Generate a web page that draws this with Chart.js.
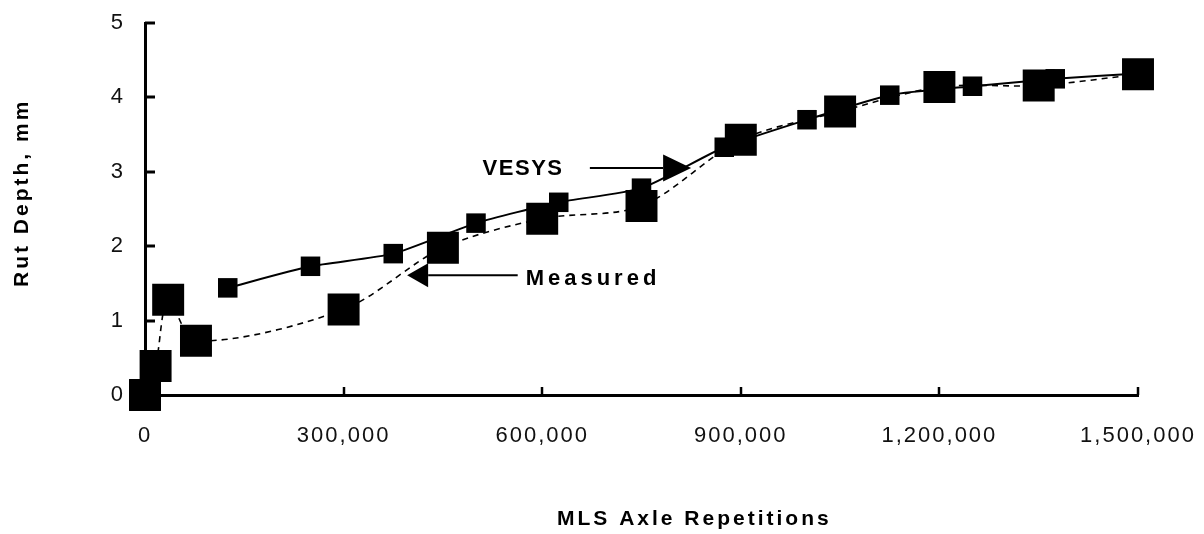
<!DOCTYPE html>
<html>
<head>
<meta charset="utf-8">
<title>Rut Depth vs MLS Axle Repetitions</title>
<script src="https://cdn.jsdelivr.net/npm/chart.js@4.4.1/dist/chart.umd.min.js"></script>
<style>
  html, body { margin: 0; padding: 0; background: #fff; }
  canvas { display: block; }
</style>
</head>
<body>
<canvas id="rutChart" width="1204" height="534"></canvas>
<script>
// Measured rut depth (mm) against MLS axle repetitions
const measuredReps = [0, 16000, 35000, 77000, 300000, 450000, 600000, 750000, 900000, 1050000, 1200000, 1350000, 1500000];
const measuredRut  = [0, 0.39, 1.28, 0.73, 1.15, 1.98, 2.37, 2.54, 3.43, 3.81, 4.14, 4.16, 4.31];

// VESYS predicted rut depth (mm)
const vesysReps = [125000, 250000, 375000, 500000, 625000, 750000, 875000, 1000000, 1125000, 1250000, 1375000, 1500000];
const vesysRut  = [1.44, 1.73, 1.90, 2.31, 2.59, 2.78, 3.33, 3.70, 4.03, 4.15, 4.25, 4.32];

// Axis tick labels
const xTickLabels = ['0', '300,000', '600,000', '900,000', '1,200,000', '1,500,000'];
const yTickLabels = ['0', '1', '2', '3', '4', '5'];

// Axis titles and series callouts
const xTitle = 'MLS Axle Repetitions';
const yTitle = 'Rut Depth, mm';
const vesysCallout = { text: 'VESYS', labelX: 510000, labelY: 2.96, tailX: 672000, tipX: 825000, arrowY: 3.05 };
const measuredCallout = { text: 'Measured', labelX: 575000, labelY: 1.48, tailX: 563000, tipX: 396000, arrowY: 1.61 };

const FONT = "'Liberation Sans', Arial, sans-serif";
const INK = '#000';

function toPoints(xs, ys) {
  return xs.map((x, i) => ({ x: x, y: ys[i] }));
}

const extras = {
  id: 'extras',
  beforeUpdate(chart) { chart.ctx.letterSpacing = '2px'; },
  beforeDraw(chart) {
    const ctx = chart.ctx;
    ctx.save();
    ctx.fillStyle = '#fff';
    ctx.fillRect(0, 0, chart.width, chart.height);
    ctx.restore();
    ctx.letterSpacing = '2px';
  },
  beforeDatasetsDraw(chart) {
    // tick marks pointing into the plot area
    const { ctx, chartArea: a, scales } = chart;
    ctx.save();
    ctx.strokeStyle = INK;
    ctx.lineWidth = 3;
    scales.y.ticks.forEach((t) => {
      if (t.value === 0) return;
      const py = Math.round(scales.y.getPixelForValue(t.value));
      ctx.beginPath();
      ctx.moveTo(a.left, py);
      ctx.lineTo(a.left + 10, py);
      ctx.stroke();
    });
    ctx.lineWidth = 2.5;
    scales.x.ticks.forEach((t) => {
      if (t.value === 0) return;
      const px = Math.round(scales.x.getPixelForValue(t.value));
      ctx.beginPath();
      ctx.moveTo(px, a.bottom);
      ctx.lineTo(px, a.bottom - 8);
      ctx.stroke();
    });
    ctx.restore();
  },
  afterDraw(chart) {
    const { ctx, scales } = chart;
    const sx = scales.x, sy = scales.y;
    ctx.save();
    ctx.fillStyle = INK;
    ctx.strokeStyle = INK;

    // callout arrows
    function arrow(c, headLen, headHalf) {
      const y = sy.getPixelForValue(c.arrowY);
      const tip = sx.getPixelForValue(c.tipX);
      const tail = sx.getPixelForValue(c.tailX);
      const dir = Math.sign(tip - tail);
      const base = tip - dir * headLen;
      ctx.lineWidth = 2;
      ctx.beginPath();
      ctx.moveTo(tail, y);
      ctx.lineTo(base, y);
      ctx.stroke();
      ctx.beginPath();
      ctx.moveTo(tip, y);
      ctx.lineTo(base, y - headHalf);
      ctx.lineTo(base, y + headHalf);
      ctx.closePath();
      ctx.fill();
    }
    arrow(vesysCallout, 28, 13.5);
    arrow(measuredCallout, 21, 12);

    ctx.textAlign = 'left';
    ctx.textBaseline = 'alphabetic';
    ctx.font = 'bold 22px ' + FONT;
    ctx.letterSpacing = '1.5px';
    ctx.fillText(vesysCallout.text, sx.getPixelForValue(vesysCallout.labelX), sy.getPixelForValue(vesysCallout.labelY));
    ctx.letterSpacing = '4px';
    ctx.fillText(measuredCallout.text, sx.getPixelForValue(measuredCallout.labelX), sy.getPixelForValue(measuredCallout.labelY));

    // axis titles
    ctx.font = 'bold 21px ' + FONT;
    ctx.letterSpacing = '3px';
    ctx.fillText(xTitle, 557, 525);
    ctx.translate(28, 287);
    ctx.rotate(-Math.PI / 2);
    ctx.fillText(yTitle, 0, 0);
    ctx.restore();
  }
};

new Chart(document.getElementById('rutChart'), {
  type: 'scatter',
  data: {
    datasets: [
      {
        label: 'VESYS',
        data: toPoints(vesysReps, vesysRut),
        showLine: true,
        borderColor: INK,
        backgroundColor: INK,
        borderWidth: 2,
        tension: 0.2,
        pointStyle: 'rect',
        pointRadius: 13.8,
        pointBorderWidth: 0,
        pointBackgroundColor: INK,
        clip: false
      },
      {
        label: 'Measured',
        data: toPoints(measuredReps, measuredRut),
        showLine: true,
        borderColor: INK,
        backgroundColor: INK,
        borderWidth: 1.6,
        borderDash: [6, 5],
        tension: 0.3,
        pointStyle: 'rect',
        pointRadius: 22.6,
        pointBorderWidth: 0,
        pointBackgroundColor: INK,
        clip: false
      }
    ]
  },
  options: {
    responsive: false,
    animation: false,
    events: [],
    layout: { padding: { left: 0, right: 66, top: 23, bottom: 0 } },
    plugins: {
      legend: { display: false },
      tooltip: { enabled: false },
      title: { display: false }
    },
    scales: {
      x: {
        type: 'linear',
        min: 0,
        max: 1500000,
        grid: { display: false },
        border: { display: true, color: INK, width: 3 },
        ticks: {
          stepSize: 300000,
          autoSkip: false,
          maxRotation: 0,
          padding: 20,
          color: '#111',
          font: { family: FONT, size: 22 },
          callback: (v, i) => xTickLabels[i]
        },
        afterFit: (s) => { s.height = 139; s.paddingLeft = 0; s.paddingRight = 0; }
      },
      y: {
        type: 'linear',
        min: 0,
        max: 5,
        grid: { display: false },
        border: { display: true, color: INK, width: 3 },
        ticks: {
          stepSize: 1,
          padding: 12,
          color: '#111',
          font: { family: FONT, size: 22 },
          callback: (v, i) => yTickLabels[i]
        },
        afterFit: (s) => { s.width = 145; s.paddingTop = 0; s.paddingBottom = 0; }
      }
    }
  },
  plugins: [extras]
});
</script>
</body>
</html>
